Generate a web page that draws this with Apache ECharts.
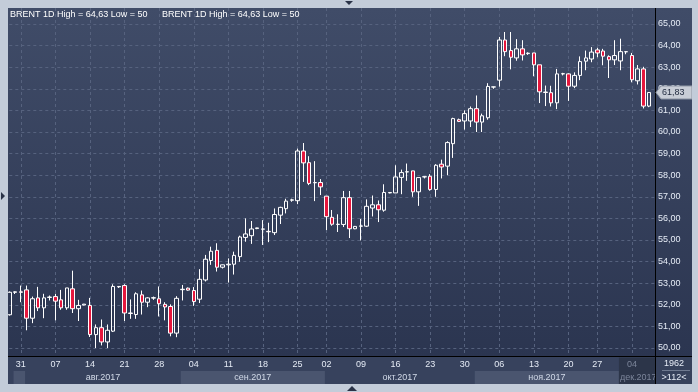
<!DOCTYPE html>
<html><head><meta charset="utf-8">
<script src="https://cdn.jsdelivr.net/npm/echarts@6/dist/echarts.min.js"></script>
<style>html,body{margin:0;padding:0;background:#c3ccd9;}#c{width:698px;height:392px;}</style>
</head><body><div id="c"></div>
<script>
// ---- data ----
const categories = ['28.07','30.07','31.07','01.08','02.08','03.08','04.08','06.08','07.08','08.08','09.08','10.08','11.08','13.08','14.08','15.08','16.08','17.08','18.08','20.08','21.08','22.08','23.08','24.08','25.08','27.08','28.08','29.08','30.08','31.08','01.09','03.09','04.09','05.09','06.09','07.09','08.09','10.09','11.09','12.09','13.09','14.09','15.09','17.09','18.09','19.09','20.09','21.09','22.09','24.09','25.09','26.09','27.09','28.09','29.09','02.10','03.10','04.10','05.10','06.10','08.10','09.10','10.10','11.10','12.10','13.10','15.10','16.10','17.10','18.10','19.10','20.10','22.10','23.10','24.10','25.10','26.10','27.10','29.10','30.10','31.10','01.11','02.11','03.11','05.11','06.11','07.11','08.11','09.11','10.11','12.11','13.11','14.11','15.11','16.11','17.11','19.11','20.11','21.11','22.11','24.11','26.11','27.11','28.11','29.11','30.11','01.12','03.12','04.12','05.12','06.12','07.12'];
// [open, close, low, high]
const ohlc = [
[51.54,52.58,51.50,52.62],[52.58,52.60,52.50,52.62],[52.60,52.58,52.12,52.89],[52.69,51.38,50.82,52.89],[51.38,52.28,51.15,52.38],
[52.32,51.86,51.71,52.83],[51.86,52.32,51.38,52.51],[52.34,52.36,52.20,52.43],[52.38,52.17,51.28,52.51],[52.23,51.86,51.77,52.69],
[51.86,52.78,51.77,52.78],[52.74,51.82,51.62,53.58],[51.82,51.97,51.25,52.23],[51.99,52.03,51.98,52.04],[51.97,50.62,50.51,52.32],
[50.62,50.94,50.00,51.09],[50.94,50.28,50.12,51.32],[50.28,50.82,50.00,51.09],[50.78,52.85,50.74,52.95],[52.85,52.83,52.78,52.86],
[52.89,51.62,51.25,52.95],[51.62,51.60,51.35,52.25],[51.55,52.51,51.35,52.58],[52.46,52.12,51.55,52.66],[52.12,52.32,51.89,52.35],
[52.31,52.33,52.23,52.38],[52.28,52.05,51.46,52.85],[52.02,51.90,51.28,52.12],[51.92,50.69,50.54,52.02],[50.69,52.30,50.50,52.40],
[52.70,52.72,52.20,52.92],[52.77,52.68,52.65,52.80],[52.66,52.15,51.95,52.82],[52.26,53.18,52.08,53.65],[53.15,54.11,53.08,54.31],
[54.05,54.48,53.85,54.69],[54.52,53.74,53.54,54.85],[53.74,53.85,53.68,53.86],[53.85,53.88,53.03,54.15],[53.88,54.29,53.40,54.46],
[54.23,55.14,53.99,55.20],[55.12,55.28,54.92,56.00],[55.20,55.51,54.82,55.88],[55.53,55.56,55.50,55.57],[55.50,55.51,54.77,55.92],
[55.40,55.38,54.90,55.80],[55.34,56.18,55.23,56.46],[56.15,56.51,55.74,56.54],[56.45,56.80,56.23,56.91],[56.84,56.86,56.77,56.91],
[56.82,59.12,56.66,59.23],[59.12,58.57,57.69,59.49],[58.58,57.62,57.54,58.88],[57.66,57.65,56.80,58.65],[57.66,57.46,57.08,57.82],
[57.03,56.08,55.46,57.03],[56.05,55.73,55.66,56.39],[55.73,55.72,55.37,56.19],[55.72,56.96,55.60,57.27],[56.96,55.52,55.09,57.27],
[55.52,55.63,55.50,55.65],[55.64,55.65,54.98,55.98],[55.64,56.56,55.60,56.88],[56.48,56.63,56.09,57.06],[56.63,56.40,55.83,56.83],
[56.38,57.20,56.31,57.58],[57.18,57.20,57.16,57.22],[57.18,57.92,57.18,58.46],[57.90,58.12,57.12,58.26],[58.15,58.16,57.74,58.54],
[58.20,57.23,57.00,58.20],[57.23,57.89,56.58,57.90],[57.92,57.93,57.85,57.95],[57.95,57.34,57.28,58.05],[57.34,58.46,57.00,58.51],
[58.51,58.38,57.85,58.72],[58.42,59.51,58.00,59.57],[59.46,60.62,58.80,60.66],[60.57,60.49,60.46,60.62],[60.51,60.85,60.11,61.00],
[60.51,61.08,60.23,61.18],[61.08,60.46,60.00,61.69],[60.46,60.75,60.00,60.85],[60.66,62.11,60.57,62.26],[62.08,62.09,62.00,62.10],
[62.40,64.26,62.10,64.40],[64.26,63.72,63.51,64.63],[63.77,63.46,62.90,64.63],[63.43,63.85,63.30,64.30],[63.85,63.57,63.31,64.25],
[63.65,63.63,63.57,63.69],[63.66,63.11,62.58,63.66],[63.11,61.86,61.34,63.11],[61.85,61.83,61.20,62.15],[61.82,61.35,61.18,62.14],
[61.35,62.69,61.06,62.92],[62.69,62.70,62.62,62.74],[62.69,62.12,61.44,62.72],[62.12,62.62,62.03,62.76],[62.62,63.26,62.40,63.50],
[63.28,63.43,62.86,63.77],[63.38,63.70,63.23,63.93],[63.80,63.66,63.46,63.90],[63.75,63.51,63.09,63.85],[63.49,63.34,62.50,63.55],
[63.34,63.54,63.10,64.25],[63.29,63.72,62.86,64.32],[63.72,63.71,63.60,63.74],[63.54,62.42,62.30,63.66],[62.37,62.92,62.20,63.10],
[62.92,61.20,61.09,63.02],[61.20,61.83,61.15,61.85]
];
const dayTickIndex  = [2,8,14,20,26,32,38,44,50,55,61,67,73,79,85,91,97,102,108];
const dayTickLabels = ['31','07','14','21','28','04','11','18','25','02','09','16','23','30','06','13','20','27','04'];
const monthStartIndex = [1,3,30,55,81,106];
const monthLabels = ['','авг.2017','сен.2017','окт.2017','ноя.2017','дек.2017'];
const yMin = 50, yMax = 65, yStep = 1;
const legendText = 'BRENT 1D High = 64,63 Low = 50';
const totalBars = '1962', visibleBars = '>112<';

// ---- layout / style ----
const FONT = '"Liberation Sans", Arial, sans-serif';
const PL = 9.3, PR = 655, PT = 8, PB = 357, YT = 24, YB = 348, RB = 692, BB = 384;
const xCats = categories.concat(['']);
const isTick = i => dayTickIndex.indexOf(i) >= 0;

const chart = echarts.init(document.getElementById('c'), null, {renderer: 'canvas'});
chart.setOption({
  animation: false,
  backgroundColor: 'transparent',
  grid: [
    {left: PL, top: PT, width: PR - PL, height: PB - PT, containLabel: false},
    {left: PL, top: YT, width: PR - PL, height: YB - YT, containLabel: false}
  ],
  xAxis: [
    {type: 'category', gridIndex: 0, data: xCats, boundaryGap: false,
     axisLine: {show: false}, axisTick: {show: false},
     axisLabel: {interval: (i) => isTick(i), margin: 3, fontSize: 9, fontFamily: FONT, color: '#e4eaf4',
       formatter: (v, i) => { const k = dayTickIndex.indexOf(i); if (k < 0) return ''; return k === dayTickLabels.length - 1 ? '{d|' + dayTickLabels[k] + '}' : dayTickLabels[k]; },
       rich: {d: {color: '#7c859a', fontSize: 9, fontFamily: FONT}}},
     splitLine: {show: true, interval: (i) => isTick(i), lineStyle: {color: '#56627e', width: 1, type: [3, 3]}}},
    {type: 'category', gridIndex: 1, data: xCats, boundaryGap: false, show: false}
  ],
  yAxis: [
    {type: 'value', gridIndex: 0, min: 0, max: 1, show: false, splitLine: {show: false}},
    {type: 'value', gridIndex: 1, position: 'right', min: yMin, max: yMax, interval: yStep,
     axisLine: {show: false}, axisTick: {show: false},
     axisLabel: {margin: 3, fontSize: 9, fontFamily: FONT, color: '#e6ecf6', formatter: v => v.toFixed(2).replace('.', ',')},
     splitLine: {show: true, lineStyle: {color: '#56627e', width: 1, type: [3, 3]}}}
  ],
  series: [{
    type: 'candlestick', xAxisIndex: 1, yAxisIndex: 1, data: ohlc, clip: false,
    barWidth: 4,
    itemStyle: {color: 'rgba(0,0,0,0)', color0: '#e5173d', borderColor: '#ffffff', borderColor0: '#ffffff', borderColorDoji: '#ffffff', borderWidth: 1}
  }]
});

// ---- decorations built from the axes ----
const px = i => chart.convertToPixel({xAxisIndex: 0}, i);
const py = v => chart.convertToPixel({yAxisIndex: 1}, v);
const g = [];
g.push({type: 'rect', z: -10, shape: {x: 8, y: PT, width: RB - 8, height: PB - PT},
  style: {fill: {type: 'linear', x: 0, y: 0, x2: 0, y2: 1, colorStops: [{offset: 0, color: '#404c68'}, {offset: 1, color: '#2b3550'}]}}});
g.push({type: 'rect', z: -10, shape: {x: 8, y: PB, width: RB - 8, height: BB - PB}, style: {fill: '#37425d'}});
// month bands
const bandStarts = monthStartIndex.map(i => px(i) - 1.5);
for (let k = 0; k < monthStartIndex.length; k++) {
  const x0 = bandStarts[k];
  const x1 = k + 1 < bandStarts.length ? bandStarts[k + 1] : PR;
  const last = k === monthStartIndex.length - 1;
  if (last) {
    g.push({type: 'rect', z: -9, shape: {x: x0, y: PB + 0.5, width: PR - x0, height: BB - PB - 0.5}, style: {fill: '#2c3549'}});
    g.push({type: 'text', z: 5, style: {text: monthLabels[k], x: x0 + 1, y: 377.5, fill: '#7c859a', font: '9px ' + FONT, align: 'left', verticalAlign: 'middle'}});
  } else {
    if (k % 2 === 0) g.push({type: 'rect', z: -9, shape: {x: x0, y: 371, width: x1 - x0, height: BB - 371}, style: {fill: '#4a556f'}});
    if (monthLabels[k]) g.push({type: 'text', z: 5, style: {text: monthLabels[k], x: (x0 + x1) / 2, y: 377.5, fill: '#d2dae8', font: '9px ' + FONT, align: 'center', verticalAlign: 'middle'}});
  }
}
// right-bottom counter box
g.push({type: 'rect', z: 20, shape: {x: PR, y: PB, width: RB - PR, height: BB - PB}, style: {fill: '#36415b'}});
g.push({type: 'text', z: 21, style: {text: totalBars, x: 674, y: 364, fill: '#e6ecf6', font: '9px ' + FONT, align: 'center', verticalAlign: 'middle'}});
g.push({type: 'line', z: 21, shape: {x1: 662, y1: 370.5, x2: 690, y2: 370.5}, style: {stroke: '#6f7a90', lineWidth: 1}});
g.push({type: 'text', z: 21, style: {text: visibleBars, x: 674, y: 377.5, fill: '#e6ecf6', font: '9px ' + FONT, align: 'center', verticalAlign: 'middle'}});
// separator lines
g.push({type: 'line', z: 22, shape: {x1: 8, y1: PB - 0.5, x2: RB, y2: PB - 0.5}, style: {stroke: '#000000', lineWidth: 1}});
g.push({type: 'line', z: 22, shape: {x1: PR + 0.5, y1: PT, x2: PR + 0.5, y2: BB}, style: {stroke: '#000000', lineWidth: 1}});
// current price tag
const last = ohlc[ohlc.length - 1][1];
const ly = py(last);
g.push({type: 'polygon', z: 30, shape: {points: [[656, ly], [661, ly - 6.5], [692, ly - 6.5], [692, ly + 6.5], [661, ly + 6.5]]}, style: {fill: '#c8cdd6', stroke: '#8d95a3', lineWidth: 1}});
g.push({type: 'text', z: 31, style: {text: last.toFixed(2).replace('.', ','), x: 662, y: ly, fill: '#1e283d', font: '9px ' + FONT, align: 'left', verticalAlign: 'middle'}});
// legend texts
g.push({type: 'text', z: 31, style: {text: legendText, x: 10, y: 15, fill: '#ffffff', font: '9px ' + FONT, align: 'left', verticalAlign: 'middle'}});
g.push({type: 'text', z: 31, style: {text: legendText, x: 162, y: 15, fill: '#ffffff', font: '9px ' + FONT, align: 'left', verticalAlign: 'middle'}});
// outer frame
const FR = '#c3ccd9';
g.push({type: 'rect', z: 40, shape: {x: 0, y: 0, width: 8, height: 392}, style: {fill: FR}});
g.push({type: 'rect', z: 40, shape: {x: 0, y: 0, width: 698, height: 8}, style: {fill: FR}});
g.push({type: 'rect', z: 40, shape: {x: 0, y: BB, width: 698, height: 392 - BB}, style: {fill: FR}});
g.push({type: 'rect', z: 40, shape: {x: RB, y: 0, width: 698 - RB, height: 392}, style: {fill: FR}});
g.push({type: 'polygon', z: 41, shape: {points: [[345, 1], [353, 1], [349, 5]]}, style: {fill: '#2a3348'}});
g.push({type: 'polygon', z: 41, shape: {points: [[1, 192], [1, 200], [5, 196]]}, style: {fill: '#2a3348'}});
g.push({type: 'polygon', z: 41, shape: {points: [[347, 391], [357, 391], [352, 386]]}, style: {fill: '#2a3348'}});
chart.setOption({graphic: g});
</script></body></html>
